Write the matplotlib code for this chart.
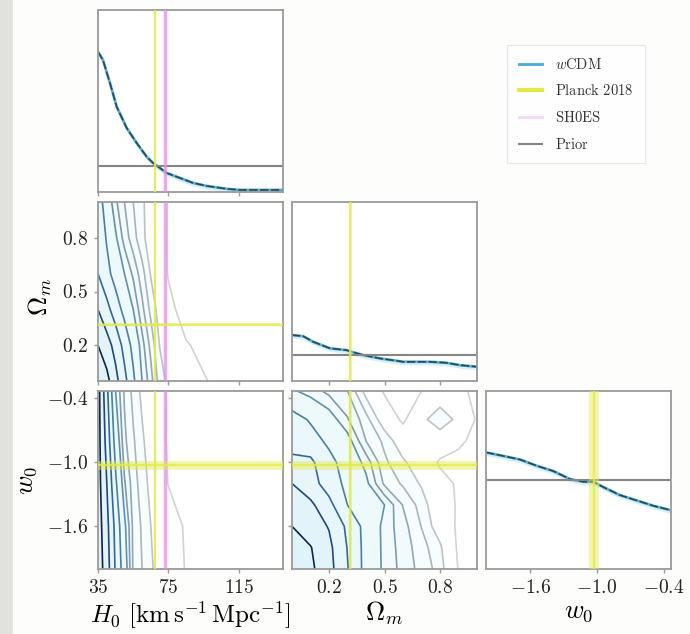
import numpy as np
import matplotlib
matplotlib.use("Agg")
import matplotlib.pyplot as plt
from matplotlib.lines import Line2D
from matplotlib.patches import Rectangle

plt.rcParams["mathtext.fontset"] = "cm"
plt.rcParams["font.family"] = "DejaVu Serif"

# ---------------- parameter ranges and ticks ----------------
h0_range = [35.0, 140.0]
om_range = [0.0, 1.0]
w0_range = [-2.0, -1.0 / 3.0]

h0_ticks = [35, 75, 115]
h0_ticklabels = ["35", "75", "115"]
om_ticks = [0.2, 0.5, 0.8]
om_ticklabels = ["0.2", "0.5", "0.8"]
w0_ticks = [-1.6, -1.0, -0.4]
w0_ticklabels = ["-1.6", "-1.0", "-0.4"]

# ---------------- external measurements ----------------
planck_h0, planck_h0_err = 67.4, 0.5
planck_om, planck_om_err = 0.315, 0.007
planck_w0, planck_w0_err = -1.03, 0.045
shoes_h0, shoes_h0_err = 73.2, 1.3

# ---------------- 1D marginals (relative to the flat prior = 1) ----------------
h0_x = [35, 37.8, 41.8, 45.6, 51.3, 57.0, 62.6, 66.2, 70.2, 74.0, 81.5, 88.9, 96.9, 108.2, 115.6, 140]
h0_post = [5.39, 5.08, 4.19, 3.28, 2.46, 1.88, 1.36, 1.12, 0.92, 0.73, 0.54, 0.35, 0.23, 0.12, 0.08, 0.08]

om_x = [0.0, 0.06, 0.115, 0.205, 0.295, 0.32, 0.385, 0.476, 0.566, 0.60, 0.746, 0.836, 0.908, 1.0]
om_post = [1.77, 1.73, 1.51, 1.26, 1.19, 1.13, 1.0, 0.87, 0.78, 0.74, 0.74, 0.70, 0.61, 0.55]

w0_x = [-2.0, -1.844, -1.694, -1.543, -1.393, -1.243, -1.123, -1.033, -0.943, -0.793, -0.642, -0.492, -0.333]
w0_post = [1.31, 1.27, 1.23, 1.16, 1.10, 1.01, 0.98, 0.98, 0.92, 0.83, 0.77, 0.71, 0.66]

# ---------------- 2D marginal densities on coarse grids ----------------
h0_nodes = [35, 40, 45, 50, 55, 60, 65, 70, 75, 85, 100, 140]

om_nodes_a = [0.0, 0.2, 0.4, 0.6, 0.8, 1.0]
dens_h0_om = [
    [9.0, 8.3, 7.3, 6.3, 5.2, 4.0, 3.2, 2.25, 1.86, 1.46, 0.9, 0.3],
    [8.0, 7.4, 6.65, 5.67, 4.7, 3.7, 2.84, 1.98, 1.7, 1.05, 0.75, 0.3],
    [7.0, 6.3, 5.5, 4.7, 4.0, 3.15, 2.35, 1.75, 1.2, 0.7, 0.5, 0.2],
    [6.0, 5.3, 4.6, 4.0, 3.4, 2.7, 1.95, 1.35, 0.95, 0.6, 0.4, 0.15],
    [5.8, 4.9, 4.1, 3.3, 2.7, 2.15, 1.7, 1.3, 0.95, 0.6, 0.4, 0.15],
    [5.5, 4.5, 3.6, 3.0, 2.5, 2.1, 1.7, 1.3, 0.95, 0.6, 0.4, 0.15],
]

w0_nodes_a = [-2.0, -1.6, -1.2, -0.8, -1.0 / 3.0]
dens_h0_w0 = [
    [8.6, 7.47, 5.88, 4.46, 2.92, 2.5, 2.08, 1.77, 1.48, 0.95, 0.6, 0.2],
    [8.5, 7.29, 5.71, 4.17, 2.87, 2.43, 2.0, 1.71, 1.41, 0.9, 0.55, 0.2],
    [8.4, 7.0, 5.17, 3.57, 2.73, 2.27, 1.83, 1.39, 0.97, 0.7, 0.45, 0.2],
    [8.4, 6.65, 4.6, 3.12, 2.57, 2.1, 1.68, 1.28, 0.9, 0.65, 0.4, 0.15],
    [8.4, 6.25, 4.0, 2.93, 2.35, 1.87, 1.55, 1.23, 0.92, 0.65, 0.4, 0.15],
]

om_nodes_b = [0.0, 0.1, 0.2, 0.3, 0.4, 0.5, 0.6, 0.7, 0.8, 0.9, 1.0]
w0_nodes_b = [-2.0, -1.8, -1.6, -1.4, -1.2, -1.0, -0.8, -0.6, -1.0 / 3.0]
dens_om_w0 = [
    [9.0, 8.2, 7.34, 6.05, 4.67, 3.85, 3.33, 2.81, 2.29, 0.95, 0.7],
    [8.9, 8.05, 7.24, 5.96, 4.67, 3.83, 3.28, 2.71, 2.12, 0.85, 0.6],
    [8.0, 7.49, 6.94, 5.8, 4.66, 3.81, 3.2, 2.48, 1.62, 0.85, 0.6],
    [7.45, 7.2, 6.3, 5.0, 4.5, 4.0, 2.97, 2.28, 1.45, 0.9, 0.6],
    [7.0, 6.4, 5.55, 4.74, 4.17, 2.9, 2.42, 1.93, 1.27, 0.9, 0.6],
    [6.3, 6.2, 5.28, 4.58, 3.8, 2.6, 2.1, 1.57, 0.9, 0.7, 0.5],
    [5.5, 5.38, 4.81, 4.28, 3.0, 2.38, 1.56, 1.2, 1.5, 1.2, 0.7],
    [5.4, 4.9, 4.35, 3.55, 2.7, 1.6, 0.85, 1.8, 2.45, 1.8, 0.9],
    [4.1, 3.75, 3.35, 3.0, 1.78, 0.9, 0.8, 1.0, 1.4, 1.2, 0.8],
]

# ---------------- styling ----------------
C_WCDM = "#47acd9"
C_DARK = "#2b3b3c"
C_BAND = "#c9ecf8"
C_PLANCK = "#e2ea4a"
C_SHOES = "#e88ee8"
C_PRIOR = "#858585"
C_SPINE = "#9a9a9a"

contour_levels = [1, 2, 2.5, 3, 3.5, 4, 5, 6, 7, 8]
contour_colors = ["#d0d4d7", "#bcc3c8", "#a8b5bd", "#92a7b4", "#7c9bb0",
                  "#6190ae", "#4a7ea6", "#35669a", "#21487a", "#0e2447"]
fill_levels = [2, 3, 4, 5, 6, 7, 8, 12]
fill_colors = ["#f7fcfe", "#f2fafd", "#eef9fc", "#eaf7fc", "#e6f6fb", "#e2f4fa", "#def3fa"]

fig = plt.figure(figsize=(6.9, 6.34), dpi=100)
fig.patch.set_facecolor("#fdfdfb")
fig.patches.append(Rectangle((0, 0), 13 / 690, 1, transform=fig.transFigure,
                             facecolor="#e1e1dd", edgecolor="none", zorder=-1))

W, H = 690.0, 634.0
cols = [98, 292, 486]
rows = [(10, 192), (202, 381), (391, 569)]
pw = 185


def make_ax(ci, ri):
    top, bot = rows[ri]
    return fig.add_axes([cols[ci] / W, 1 - bot / H, pw / W, (bot - top) / H])


def style(ax):
    for s in ax.spines.values():
        s.set_color(C_SPINE)
        s.set_linewidth(1.3)
    ax.tick_params(direction="out", length=3, width=1, color=C_SPINE,
                   labelsize=14, pad=4, labelcolor="#222222")
    ax.set_facecolor("white")


def set_ticks(ax, axis, ticks, labels, show):
    if axis == "x":
        ax.set_xticks(ticks)
        ax.set_xticklabels(["$%s$" % t for t in labels] if show else [])
    else:
        ax.set_yticks(ticks)
        ax.set_yticklabels(["$%s$" % t for t in labels] if show else [])


def planck_v(ax, val, err):
    ax.axvspan(val - err, val + err, color=C_PLANCK, alpha=0.45, lw=0, zorder=3)
    ax.axvline(val, color=C_PLANCK, lw=1.6, alpha=0.8, zorder=3)


def planck_h(ax, val, err):
    ax.axhspan(val - err, val + err, color=C_PLANCK, alpha=0.45, lw=0, zorder=3)
    ax.axhline(val, color=C_PLANCK, lw=1.6, alpha=0.8, zorder=3)


def shoes_v(ax):
    ax.axvspan(shoes_h0 - shoes_h0_err, shoes_h0 + shoes_h0_err, color=C_SHOES,
               alpha=0.2, lw=0, zorder=3)
    ax.axvline(shoes_h0, color=C_SHOES, lw=2.0, alpha=0.75, zorder=3)


def diag(ax, x, y, rng, ytop):
    x = np.asarray(x)
    y = np.asarray(y)
    half = 0.011 * ytop
    ax.fill_between(x, y - 1.6 * half, y + 0.6 * half, color=C_BAND, alpha=0.75, lw=0, zorder=1)
    ax.plot(x, y, color=C_WCDM, lw=2.0, alpha=0.9, zorder=2)
    ax.plot(x, y, color=C_DARK, lw=1.2, dashes=(5, 1.5), alpha=0.9, zorder=2)
    ax.axhline(1.0, color=C_PRIOR, lw=1.5, zorder=2)
    ax.set_xlim(rng)
    ax.set_ylim(0, ytop)
    ax.set_yticks([])


def pair(ax, xn, yn, dens, xr, yr):
    X, Y = np.meshgrid(xn, yn)
    Z = np.asarray(dens)
    ax.contourf(X, Y, Z, levels=fill_levels, colors=fill_colors, zorder=0)
    ax.contour(X, Y, Z, levels=contour_levels, colors=contour_colors,
               linewidths=1.2, zorder=1)
    ax.set_xlim(xr)
    ax.set_ylim(yr)


# ---- column 1 : H0 ----
ax11 = make_ax(0, 0)
style(ax11)
diag(ax11, h0_x, h0_post, h0_range, 7.0)
planck_v(ax11, planck_h0, planck_h0_err)
shoes_v(ax11)
set_ticks(ax11, "x", h0_ticks, h0_ticklabels, False)

ax21 = make_ax(0, 1)
style(ax21)
pair(ax21, h0_nodes, om_nodes_a, dens_h0_om, h0_range, om_range)
planck_v(ax21, planck_h0, planck_h0_err)
shoes_v(ax21)
planck_h(ax21, planck_om, planck_om_err)
set_ticks(ax21, "x", h0_ticks, h0_ticklabels, False)
set_ticks(ax21, "y", om_ticks, om_ticklabels, True)
ax21.set_ylabel(r"$\Omega_m$", fontsize=19)
ax21.yaxis.set_label_coords(-0.24, 0.47)

ax31 = make_ax(0, 2)
style(ax31)
pair(ax31, h0_nodes, w0_nodes_a, dens_h0_w0, h0_range, w0_range)
planck_v(ax31, planck_h0, planck_h0_err)
shoes_v(ax31)
planck_h(ax31, planck_w0, planck_w0_err)
set_ticks(ax31, "x", h0_ticks, h0_ticklabels, True)
set_ticks(ax31, "y", w0_ticks, w0_ticklabels, True)
ax31.set_xlabel(r"$H_0\ [\mathrm{km\,s^{-1}\,Mpc^{-1}}]$", fontsize=18, labelpad=2)
ax31.set_ylabel(r"$w_0$", fontsize=19)
ax31.yaxis.set_label_coords(-0.32, 0.5)

# ---- column 2 : Omega_m ----
ax22 = make_ax(1, 1)
style(ax22)
diag(ax22, om_x, om_post, om_range, 6.9)
planck_v(ax22, planck_om, planck_om_err)
set_ticks(ax22, "x", om_ticks, om_ticklabels, False)

ax32 = make_ax(1, 2)
style(ax32)
pair(ax32, om_nodes_b, w0_nodes_b, dens_om_w0, om_range, w0_range)
planck_v(ax32, planck_om, planck_om_err)
planck_h(ax32, planck_w0, planck_w0_err)
set_ticks(ax32, "x", om_ticks, om_ticklabels, True)
set_ticks(ax32, "y", w0_ticks, w0_ticklabels, False)
ax32.set_xlabel(r"$\Omega_m$", fontsize=19, labelpad=2)

# ---- column 3 : w0 ----
ax33 = make_ax(2, 2)
style(ax33)
diag(ax33, w0_x, w0_post, w0_range, 2.0)
planck_v(ax33, planck_w0, planck_w0_err)
set_ticks(ax33, "x", w0_ticks, w0_ticklabels, True)
ax33.set_xlabel(r"$w_0$", fontsize=19, labelpad=2)

# ---- legend ----
handles = [
    Line2D([], [], color=C_WCDM, lw=2),
    Line2D([], [], color=C_PLANCK, lw=3),
    Line2D([], [], color=C_SHOES, lw=2, alpha=0.35),
    Line2D([], [], color=C_PRIOR, lw=1.5),
]
labels = [r"$w\mathrm{CDM}$", r"$\mathrm{Planck\ 2018}$", r"$\mathrm{SH0ES}$", r"$\mathrm{Prior}$"]
leg = fig.legend(handles, labels, loc="upper left",
                 bbox_to_anchor=(507 / W, 1 - 45 / H), borderaxespad=0,
                 fontsize=10.5, handlelength=1.6, handletextpad=0.9,
                 labelspacing=0.8, borderpad=0.8, frameon=True, fancybox=False)
leg.get_frame().set_edgecolor("#e2e2e2")
leg.get_frame().set_linewidth(0.8)
for t in leg.get_texts():
    t.set_color("#333333")

fig.savefig("out.png", dpi=100, facecolor=fig.get_facecolor())
